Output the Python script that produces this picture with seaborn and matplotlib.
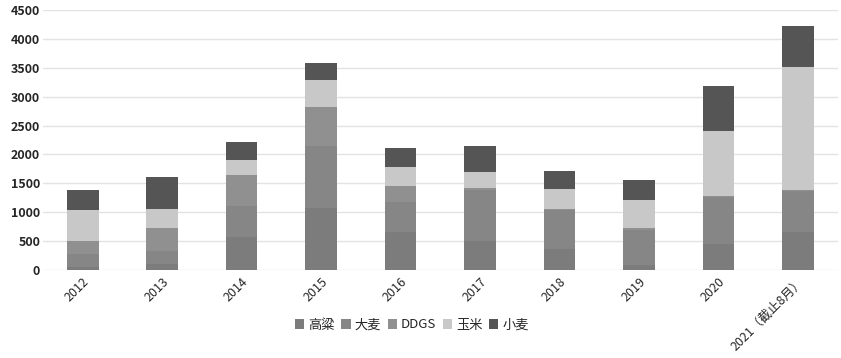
import numpy as np
import pandas as pd
import matplotlib
matplotlib.use("Agg")
import matplotlib.pyplot as plt
import seaborn as sns

years = ["2012", "2013", "2014", "2015", "2016", "2017", "2018", "2019", "2020", "2021（截止8月）"]
sorghum = [50, 100, 577, 1070, 664, 500, 365, 90, 450, 665]     # 高粱
barley = [230, 235, 536, 1070, 520, 880, 670, 600, 810, 700]     # 大麦
ddgs = [220, 390, 531, 680, 277, 30, 20, 40, 20, 20]             # DDGS
corn = [530, 335, 260, 460, 317, 290, 350, 480, 1130, 2135]      # 玉米
wheat = [360, 555, 306, 310, 330, 445, 310, 350, 775, 700]       # 小麦

series_names = ["高粱", "大麦", "DDGS", "玉米", "小麦"]
series_vals = [sorghum, barley, ddgs, corn, wheat]
colors = ["#7c7c7c", "#868686", "#909090", "#c8c8c8", "#555555"]

sns.set_theme(style="white")
plt.rcParams["font.family"] = ["Noto Sans CJK SC", "DejaVu Sans"]

fig = plt.figure(figsize=(8.41, 3.58), dpi=100)
ax = fig.add_axes([0.051, 0.246, 0.945, 0.726])

cum = np.cumsum(np.array(series_vals, dtype=float), axis=0)
# draw from top layer to bottom so each lower layer overlays
for i in range(len(series_names) - 1, -1, -1):
    df = pd.DataFrame({"year": years, "value": cum[i]})
    sns.barplot(data=df, x="year", y="value", color=colors[i], width=0.4,
                saturation=1, ax=ax, label=series_names[i], linewidth=0, zorder=3)

ax.set_ylim(0, 4500)
ax.set_xlim(-0.5, 9.5)
ax.set_yticks(range(0, 4501, 500))
ax.yaxis.grid(True, color="#e3e3e3", linewidth=1, zorder=0)
ax.xaxis.grid(False)
for s in ax.spines.values():
    s.set_visible(False)
ax.set_xlabel("")
ax.set_ylabel("")
ax.tick_params(axis="y", labelsize=9, pad=2, length=0)
for lab in ax.get_yticklabels():
    lab.set_fontweight("bold")
ax.tick_params(axis="x", labelsize=9, length=0, pad=4)
plt.setp(ax.get_xticklabels(), rotation=45, ha="right", rotation_mode="anchor")

handles, labels = ax.get_legend_handles_labels()
if ax.get_legend() is not None:
    ax.get_legend().remove()
order = [labels.index(n) for n in series_names]
fig.legend([handles[k] for k in order], [labels[k] for k in order],
           loc="center", bbox_to_anchor=(412 / 841, 1 - 325 / 358), ncol=5, frameon=False,
           fontsize=9.5, handlelength=0.7, handleheight=0.7, handletextpad=0.3,
           columnspacing=0.5)

fig.savefig("out.png", dpi=100)
